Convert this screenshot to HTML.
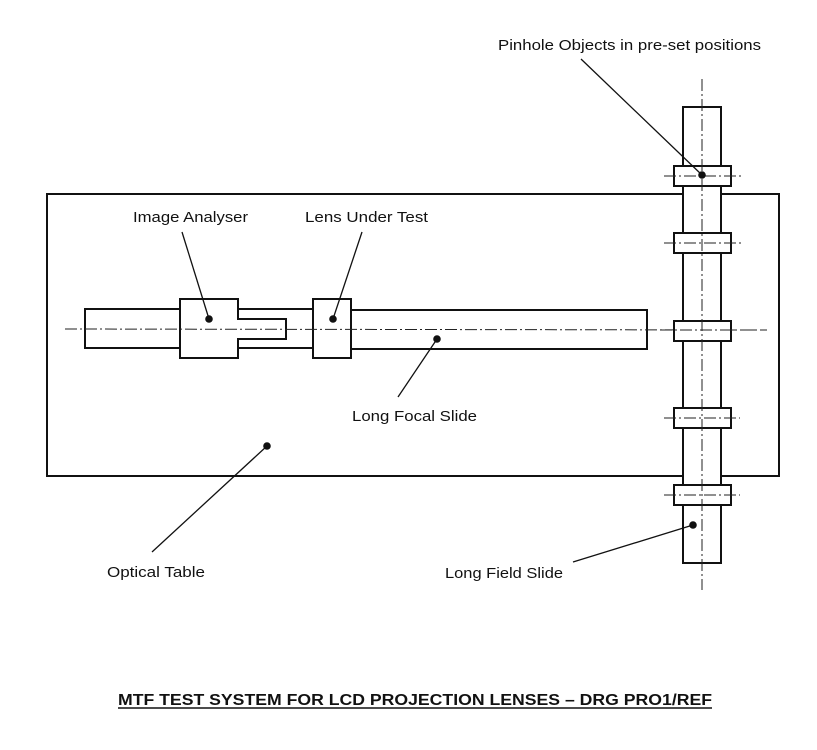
<!DOCTYPE html>
<html>
<head>
<meta charset="utf-8">
<style>
  html, body { margin:0; padding:0; background:#ffffff; }
  svg { display:block; }
  text { font-family: "Liberation Sans", Arial, sans-serif; fill:#111; }
</style>
</head>
<body>
<svg width="817" height="750" viewBox="0 0 817 750" xmlns="http://www.w3.org/2000/svg">
  <rect x="0" y="0" width="817" height="750" fill="#ffffff"/>

  <!-- Optical table -->
  <rect x="47" y="194" width="732" height="282" fill="none" stroke="#111" stroke-width="2"/>

  <!-- Long focal slide assembly -->
  <g fill="#fff" stroke="#111" stroke-width="2">
    <rect x="85" y="309" width="95" height="39"/>
    <rect x="238" y="309" width="75" height="39"/>
    <rect x="351" y="310" width="296" height="39"/>
    <rect x="180" y="299" width="58" height="59"/>
    <rect x="238" y="319" width="48" height="20"/>
    <line x1="238" y1="320" x2="238" y2="338" stroke="#fff" stroke-width="2"/>
    <rect x="313" y="299" width="38" height="59"/>
  </g>

  <!-- Horizontal centre line -->
  <line x1="65" y1="329" x2="767" y2="330" stroke="#222" stroke-width="1" stroke-dasharray="12,3,2,3"/>

  <!-- Long field slide (vertical rail) -->
  <g fill="#fff" stroke="#111" stroke-width="2">
    <rect x="683" y="107" width="38" height="456"/>
    <rect x="674" y="166" width="57" height="20"/>
    <rect x="674" y="233" width="57" height="20"/>
    <rect x="674" y="321" width="57" height="20"/>
    <rect x="674" y="408" width="57" height="20"/>
    <rect x="674" y="485" width="57" height="20"/>
  </g>

  <!-- re-draw horizontal centre line across rail -->
  <line x1="660" y1="330" x2="767" y2="330" stroke="#222" stroke-width="1" stroke-dasharray="12,3,2,3"/>

  <!-- Vertical centre line and collar centre lines -->
  <g stroke="#222" stroke-width="1" stroke-dasharray="12,3,2,3">
    <line x1="702" y1="79" x2="702" y2="590"/>
    <line x1="664" y1="176" x2="742" y2="176"/>
    <line x1="664" y1="243" x2="742" y2="243"/>
    <line x1="664" y1="418" x2="740" y2="418"/>
    <line x1="664" y1="495" x2="740" y2="495"/>
  </g>

  <!-- Leader lines -->
  <g stroke="#111" stroke-width="1.3">
    <line x1="581" y1="59" x2="702" y2="175"/>
    <line x1="182" y1="232" x2="209" y2="319"/>
    <line x1="362" y1="232" x2="333" y2="319"/>
    <line x1="398" y1="397" x2="437" y2="339"/>
    <line x1="152" y1="552" x2="267" y2="446"/>
    <line x1="573" y1="562" x2="693" y2="525"/>
  </g>

  <!-- Dots -->
  <g fill="#111">
    <circle cx="702" cy="175" r="3.8"/>
    <circle cx="209" cy="319" r="3.8"/>
    <circle cx="333" cy="319" r="3.8"/>
    <circle cx="437" cy="339" r="3.8"/>
    <circle cx="267" cy="446" r="3.8"/>
    <circle cx="693" cy="525" r="3.8"/>
  </g>

  <!-- Labels -->
  <g font-size="15">
    <text x="498" y="50" textLength="263" lengthAdjust="spacingAndGlyphs">Pinhole Objects in pre-set positions</text>
    <text x="133" y="222" textLength="115" lengthAdjust="spacingAndGlyphs">Image Analyser</text>
    <text x="305" y="222" textLength="123" lengthAdjust="spacingAndGlyphs">Lens Under Test</text>
    <text x="352" y="421" textLength="125" lengthAdjust="spacingAndGlyphs">Long Focal Slide</text>
    <text x="107" y="577" textLength="98" lengthAdjust="spacingAndGlyphs">Optical Table</text>
    <text x="445" y="578" textLength="118" lengthAdjust="spacingAndGlyphs">Long Field Slide</text>
  </g>

  <!-- Title -->
  <text x="118" y="705" font-size="16" font-weight="bold" textLength="594" lengthAdjust="spacingAndGlyphs">MTF TEST SYSTEM FOR LCD PROJECTION LENSES – DRG PRO1/REF</text>
  <line x1="118" y1="708" x2="712" y2="708" stroke="#111" stroke-width="1.5"/>
</svg>
</body>
</html>
